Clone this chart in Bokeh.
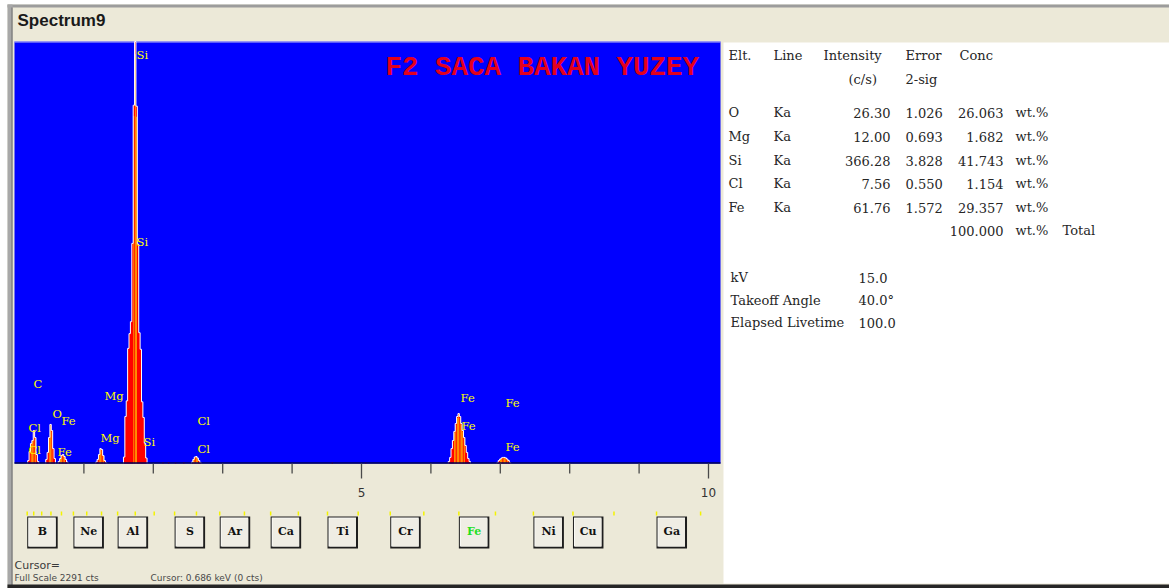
import numpy as np
from bokeh.plotting import figure
from bokeh.models import Range1d
from bokeh.core.properties import value
from bokeh.embed import file_html
from bokeh.resources import INLINE

# ------------------------------------------------------------------ data
SPECTRUM_NAME = "Spectrum9"
SAMPLE_NAME = "F2 SACA BAKAN YUZEY"
FULL_SCALE_CTS = 2291          # vertical full scale of the spectrum window
CHANNEL_KEV = 0.02             # channel width

# counts per channel around each peak (channel centre in keV)
c_kev = [0.20, 0.22, 0.24, 0.26, 0.28, 0.30, 0.32, 0.34]
c_cts = [16, 65, 109, 125, 179, 141, 49, 11]
o_kev = [0.46, 0.48, 0.50, 0.52, 0.54, 0.56, 0.58]
o_cts = [22, 60, 141, 212, 179, 81, 27]
fel_kev = [0.64, 0.66, 0.68, 0.70, 0.72, 0.74, 0.76]
fel_cts = [11, 27, 43, 49, 38, 22, 8]
mg_kev = [1.18, 1.20, 1.22, 1.24, 1.26, 1.28, 1.30, 1.32]
mg_cts = [8, 22, 49, 81, 76, 43, 16, 5]
si_kev = [1.58, 1.60, 1.62, 1.64, 1.66, 1.68, 1.70, 1.72, 1.74, 1.76,
          1.78, 1.80, 1.82, 1.84, 1.86, 1.88, 1.90]
si_cts = [35, 255, 340, 625, 705, 770, 1195, 1945, 2780, 1940,
          1190, 710, 620, 335, 250, 110, 30]
cl_kev = [2.56, 2.58, 2.60, 2.62, 2.64, 2.66, 2.68]
cl_cts = [8, 22, 35, 38, 30, 16, 5]
feka_kev = [6.26, 6.28, 6.30, 6.32, 6.34, 6.36, 6.38, 6.40,
            6.42, 6.44, 6.46, 6.48, 6.50, 6.52, 6.54, 6.56]
feka_cts = [11, 33, 81, 125, 174, 217, 255, 271,
            255, 217, 179, 141, 98, 60, 27, 11]
fekb_kev = [6.96, 6.98, 7.00, 7.02, 7.04, 7.06, 7.08, 7.10, 7.12, 7.14]
fekb_cts = [5, 16, 24, 30, 33, 33, 30, 24, 16, 5]
noise_kev = [2.14, 2.22, 2.32, 2.44, 4.58, 5.06]
noise_cts = [5, 7, 4, 6, 5, 4]

# line labels on the spectrum
peak_label_text = ["Si", "Si", "Si", "Mg", "Mg", "C", "Cl", "Cl", "O", "Fe", "Fe",
                   "Cl", "Cl", "Fe", "Fe", "Fe", "Fe"]
peak_label_kev = [1.758, 1.758, 1.859, 1.297, 1.239, 0.274, 0.202, 0.202, 0.548,
                  0.677, 0.620, 2.637, 2.637, 6.427, 6.441, 7.075, 7.075]
peak_label_cts = [2220, 1205, 119, 364, 136, 429, 195, 71, 271, 233, 60,
                  233, 81, 353, 206, 331, 92]

# energy axis
tick_kev = [1, 2, 3, 4, 5, 6, 7, 8, 9, 10]
labelled_kev = [5, 10]

# K-alpha line markers (B ... Ge) and the element buttons
ka_kev = [0.183, 0.277, 0.392, 0.525, 0.677, 0.849, 1.041, 1.254, 1.486, 1.740,
          2.013, 2.307, 2.622, 2.957, 3.313, 3.691, 4.090, 4.510, 4.952, 5.414,
          5.898, 6.403, 6.930, 7.477, 8.047, 8.638, 9.251, 9.886]
button_elements = ["B", "Ne", "Al", "S", "Ar", "Ca", "Ti", "Cr", "Fe", "Ni", "Cu", "Ga"]
button_kev = [0.183, 0.849, 1.486, 2.307, 2.957, 3.691, 4.510, 5.414, 6.403,
              7.477, 8.047, 9.251]
selected_element = "Fe"

# quantification table
elements = ["O", "Mg", "Si", "Cl", "Fe"]
lines = ["Ka", "Ka", "Ka", "Ka", "Ka"]
intensity_cps = [26.30, 12.00, 366.28, 7.56, 61.76]
error_2sig = [1.026, 0.693, 3.828, 0.550, 1.572]
conc_wt = [26.063, 1.682, 41.743, 1.154, 29.357]
conc_total = 100.000

# acquisition conditions
cond_names = ["kV", "Takeoff Angle", "Elapsed Livetime"]
cond_values = ["15.0", "40.0\u00b0", "100.0"]

# ------------------------------------------------------------------ layout
W, H = 1169, 588
PLOT_L, PLOT_R, PLOT_T, PLOT_B = 14, 720, 41, 463
PX_PER_KEV = 69.4
CTS_PER_PX = FULL_SCALE_CTS / (PLOT_B - PLOT_T)
PX = 1.0 / PX_PER_KEV          # one pixel expressed in keV

BEIGE = "#ECE9D8"
BLUE = "#0000FF"
RED = "#FF0000"
YELLOW = "#FFFF00"
INK = "#262626"
SERIF = "DejaVu Serif"

p = figure(width=W, height=H, x_range=Range1d(0, W), y_range=Range1d(H, 0),
           x_axis_location=None, y_axis_location=None, min_border=0,
           toolbar_location=None, output_backend="svg",
           background_fill_color="white", border_fill_color="white",
           outline_line_color=None)
p.grid.visible = False
p.extra_x_ranges = {"kev": Range1d(-PLOT_L / PX_PER_KEV, (W - PLOT_L) / PX_PER_KEV)}
p.extra_y_ranges = {"cts": Range1d(-(H - PLOT_B) * CTS_PER_PX, PLOT_B * CTS_PER_PX)}
KEV = dict(x_range_name="kev")
SPEC = dict(x_range_name="kev", y_range_name="cts")


def txt(x, y, t, size, font=SERIF, color=INK, align="left", baseline="middle",
        style="normal", **kw):
    p.text(x=x, y=y, text=t, text_font=value(font), text_font_size=size,
           text_color=color, text_align=align, text_baseline=baseline,
           text_font_style=style, **kw)


# window chrome
p.quad(left=[7], right=[W], top=[4], bottom=[H], fill_color=BEIGE, line_color=None)
p.quad(left=[7], right=[W], top=[4], bottom=[7], fill_color="#9C9C9C", line_color=None)
p.quad(left=[7], right=[12], top=[4], bottom=[H], fill_color="#A8A8A8", line_color=None)
p.quad(left=[11], right=[12], top=[7], bottom=[H], fill_color="#6E6E6E", line_color=None)
txt([17], [20], [SPECTRUM_NAME], "17px", font="Liberation Sans", color="#1A1A1A",
    style="bold")

# spectrum window
p.quad(left=[PLOT_L], right=[PLOT_R], top=[PLOT_T], bottom=[PLOT_B],
       fill_color=BLUE, line_color=None)
p.segment(x0=[PLOT_L], y0=[PLOT_T + 0.5], x1=[PLOT_R], y1=[PLOT_T + 0.5],
          line_color="#B8B8F8", line_width=1)


def step_outline(kev, cts):
    e = np.asarray(kev, dtype=float)
    c = np.minimum(np.asarray(cts, dtype=float), FULL_SCALE_CTS)
    edges = np.concatenate([e - CHANNEL_KEV / 2, [e[-1] + CHANNEL_KEV / 2]])
    xs, ys = [edges[0]], [0.0]
    for i in range(len(e)):
        xs += [edges[i], edges[i + 1]]
        ys += [c[i], c[i]]
    xs.append(edges[-1])
    ys.append(0.0)
    return xs, ys


peaks = [(c_kev, c_cts), (o_kev, o_cts), (fel_kev, fel_cts), (mg_kev, mg_cts),
         (si_kev, si_cts), (cl_kev, cl_cts), (feka_kev, feka_cts),
         (fekb_kev, fekb_cts)]
outlines = [step_outline(k, c) for k, c in peaks]
p.patches([o[0] for o in outlines], [o[1] for o in outlines],
          fill_color=RED, line_color=None, **SPEC)

# bright core of each peak
core_x, core_top = [], []
for kev, cts in peaks:
    cmax = max(cts)
    for k, c in zip(kev, cts):
        if c >= 0.5 * cmax:
            core_x.append(k)
            core_top.append(min(c, FULL_SCALE_CTS) * 0.97)
p.vbar(x=core_x, top=core_top, bottom=0, width=CHANNEL_KEV * 0.4,
       fill_color=YELLOW, line_color=None, **SPEC)
p.multi_line([o[0] for o in outlines], [o[1] for o in outlines],
             line_color="white", line_width=1, **SPEC)
p.vbar(x=noise_kev, top=noise_cts, bottom=0, width=CHANNEL_KEV,
       fill_color=RED, line_color=None, **SPEC)

txt(peak_label_kev, peak_label_cts, peak_label_text, "11.5px", color=YELLOW, **SPEC)

txt([385], [67], [SAMPLE_NAME], "27.5px", font="Liberation Mono", color="#E4001C",
    style="bold")

p.segment(x0=[PLOT_L], y0=[PLOT_B - 0.5], x1=[PLOT_R], y1=[PLOT_B - 0.5],
          line_color="#000050", line_width=1.5)

# energy axis
tick_end = [PLOT_B + (15 if t in labelled_kev else 10) for t in tick_kev]
p.segment(x0=tick_kev, y0=[PLOT_B] * len(tick_kev), x1=tick_kev, y1=tick_end,
          line_color="#4A4A4A", line_width=1.3, **KEV)
txt(labelled_kev, [492] * len(labelled_kev), [str(t) for t in labelled_kev], "12px",
    font="DejaVu Sans", color="#333333", align="center", **KEV)

# K-alpha markers and element buttons
p.segment(x0=ka_kev, y0=[511] * len(ka_kev), x1=ka_kev, y1=[515] * len(ka_kev),
          line_color="#F4F400", line_width=1.5, **KEV)
BTN_W = 30.5 * PX
b_left = np.asarray(button_kev)
p.quad(left=b_left, right=b_left + BTN_W, top=[516] * len(b_left),
       bottom=[548] * len(b_left), fill_color="#1E1E1E", line_color=None, **KEV)
p.quad(left=b_left + PX, right=b_left + BTN_W - 2 * PX, top=[517] * len(b_left),
       bottom=[546] * len(b_left), fill_color="#FAFAF6", line_color=None, **KEV)
p.quad(left=b_left + 2 * PX, right=b_left + BTN_W - 2 * PX, top=[518] * len(b_left),
       bottom=[546] * len(b_left), fill_color="#EFEDE4", line_color=None, **KEV)
btn_color = ["#22E022" if e == selected_element else "#111111" for e in button_elements]
p.text(x=b_left + BTN_W / 2, y=[531] * len(b_left), text=button_elements,
       text_font=value(SERIF), text_font_size="11px", text_color=btn_color,
       text_align="center", text_baseline="middle", text_font_style="bold", **KEV)

# status lines
txt([14], [565], ["Cursor="], "11px", font="DejaVu Sans", color="#3A3A3A")
txt([14, 150], [577, 577],
    ["Full Scale %d cts" % FULL_SCALE_CTS, "Cursor: 0.686 keV   (0 cts)"],
    "9px", font="DejaVu Sans", color="#4A4A4A")

# results panel
p.quad(left=[723], right=[W], top=[42], bottom=[583], fill_color="white", line_color=None)

col_elt, col_line, col_int, col_err, col_conc, col_unit, col_tot = 728, 773, 890, 905, 1003, 1015, 1062
txt([col_elt, col_line, 823, col_err, 959], [55] * 5,
    ["Elt.", "Line", "Intensity", "Error", "Conc"], "13px")
txt([848, col_err], [79, 79], ["(c/s)", "2-sig"], "13px")
row_y = [112, 136, 160, 183, 207]
txt([col_elt] * 5, row_y, elements, "13px")
txt([col_line] * 5, row_y, lines, "13px")
txt([col_int] * 5, row_y, ["%.2f" % v for v in intensity_cps], "13px", align="right")
txt([col_err] * 5, row_y, ["%.3f" % v for v in error_2sig], "13px")
txt([col_conc] * 5, row_y, ["%.3f" % v for v in conc_wt], "13px", align="right")
txt([col_unit] * 5, row_y, ["wt.%"] * 5, "13px")
txt([col_conc], [230], ["%.3f" % conc_total], "13px", align="right")
txt([col_unit, col_tot], [230, 230], ["wt.%", "Total"], "13px")

cond_y = [277, 300, 322]
txt([730] * 3, cond_y, cond_names, "13px")
txt([858] * 3, cond_y, cond_values, "13px")

# bottom frame edge
p.quad(left=[7], right=[W], top=[584], bottom=[H], fill_color="#262626", line_color=None)

open("out.html", "w").write(file_html(p, INLINE))
